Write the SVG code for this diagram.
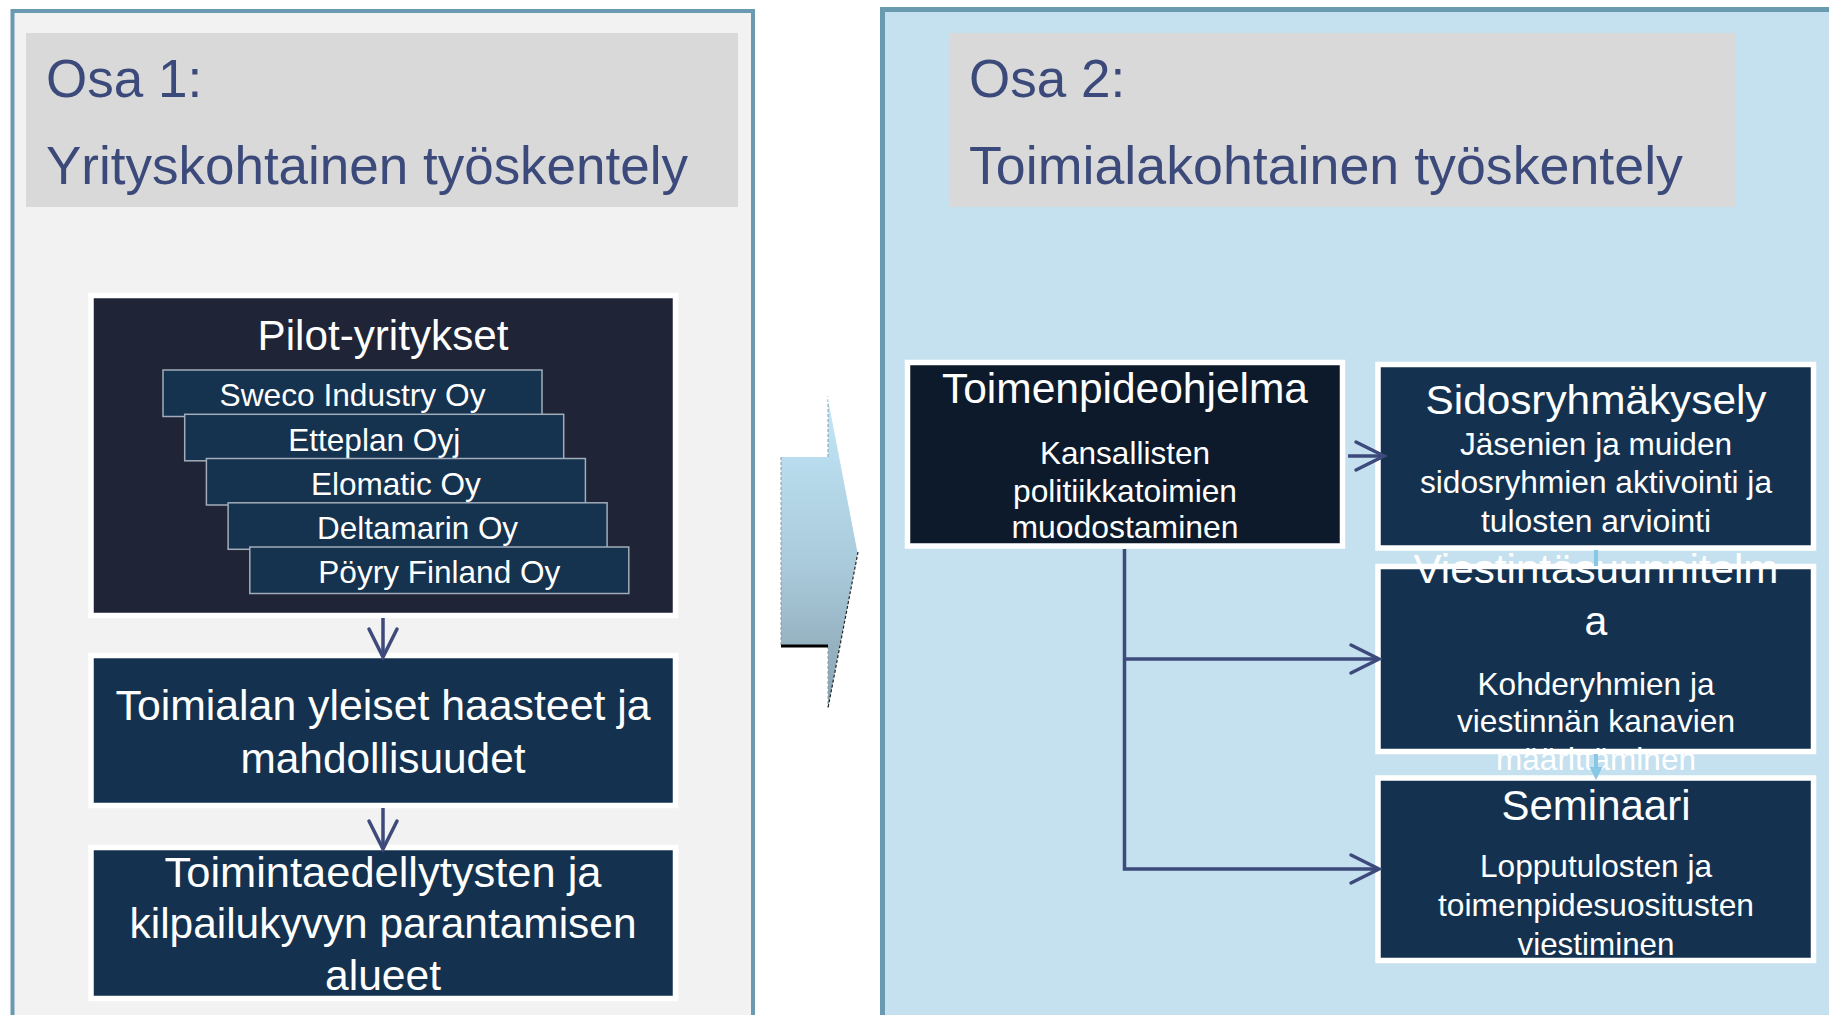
<svg xmlns="http://www.w3.org/2000/svg" width="1829" height="1015" viewBox="0 0 1829 1015">
<defs>
<style>
text{font-family:"Liberation Sans",Arial,Helvetica,sans-serif;}
.hdr{font-size:53px;fill:#3b4a7a;}
.w{fill:#ffffff;text-anchor:middle;}
.box{fill:#14324f;stroke:#ffffff;stroke-width:5.5;}
.co{fill:#15324f;stroke:#a3adb9;stroke-width:1.5;}
.conn{fill:none;stroke:#3d4a7b;stroke-width:3.5;}
.lb{fill:none;stroke:#86c8e6;stroke-width:4;}
</style>
<linearGradient id="chev" gradientUnits="userSpaceOnUse" x1="0" y1="396" x2="0" y2="708">
<stop offset="0" stop-color="#c6e6f5"/>
<stop offset="0.2" stop-color="#b9ddee"/>
<stop offset="0.55" stop-color="#a9cadb"/>
<stop offset="0.8" stop-color="#96b2c1"/>
<stop offset="1" stop-color="#8aa5b3"/>
</linearGradient>
<marker id="vh" markerUnits="userSpaceOnUse" markerWidth="40" markerHeight="40" refX="28" refY="14" orient="auto" overflow="visible">
<path d="M0,0 L28,14 L0,28" fill="none" stroke="#3d4a7b" stroke-width="3.5" stroke-linecap="round"/>
</marker>
</defs>

<rect width="1829" height="1015" fill="#ffffff"/>

<g id="panel-osa1">
<rect x="12.5" y="11" width="740.5" height="1100" fill="#f2f2f2" stroke="#6a9ab0" stroke-width="4"/>
<rect x="26" y="33" width="712" height="174" fill="#d9d9d9"/>
<text class="hdr" x="46" y="97">Osa 1:</text>
<text class="hdr" x="46" y="184" textLength="642" lengthAdjust="spacingAndGlyphs">Yrityskohtainen työskentely</text>
</g>

<g id="panel-osa2">
<rect x="882.5" y="9.5" width="1100" height="1100" fill="#c5e1ef" stroke="#6a9ab0" stroke-width="5"/>
<rect x="950" y="33" width="785" height="174" fill="#d9d9d9"/>
<text class="hdr" x="969" y="97">Osa 2:</text>
<text class="hdr" x="969" y="184" textLength="714" lengthAdjust="spacingAndGlyphs">Toimialakohtainen työskentely</text>
</g>

<g id="chevron">
<polygon points="781,457 828,457 828,396 858,552 828,708 828,646 781,646" fill="url(#chev)"/>
<path d="M781,457 V646 M828,457 V396 M828,646 V708" fill="none" stroke="#8a9aa4" stroke-width="1" stroke-dasharray="3,2"/>
<path d="M828,396 L858,552" fill="none" stroke="#ffffff" stroke-width="1.2"/>
<path d="M858,552 L828,708" fill="none" stroke="#222222" stroke-width="1.2" stroke-dasharray="3,2"/>
<line x1="781" y1="646" x2="828" y2="646" stroke="#000000" stroke-width="3"/>
</g>

<g id="pilot-yritykset">
<rect x="91" y="295.5" width="584.5" height="320" fill="#1f2537" stroke="#ffffff" stroke-width="5.5"/>
<text class="w" x="383" y="350" font-size="42" textLength="251" lengthAdjust="spacingAndGlyphs">Pilot-yritykset</text>
<g id="sweco"><rect class="co" x="163" y="370" width="379" height="46.5"/><text class="w" x="352.5" y="406" font-size="31.5" textLength="266" lengthAdjust="spacingAndGlyphs">Sweco Industry Oy</text></g>
<g id="etteplan"><rect class="co" x="184.7" y="414.3" width="379" height="46.5"/><text class="w" x="374.2" y="450.5" font-size="31.5" textLength="172" lengthAdjust="spacingAndGlyphs">Etteplan Oyj</text></g>
<g id="elomatic"><rect class="co" x="206.4" y="458.5" width="379" height="46.5"/><text class="w" x="395.9" y="494.5" font-size="31.5" textLength="170" lengthAdjust="spacingAndGlyphs">Elomatic Oy</text></g>
<g id="deltamarin"><rect class="co" x="228.1" y="502.8" width="379" height="46.5"/><text class="w" x="417.6" y="538.5" font-size="31.5" textLength="201" lengthAdjust="spacingAndGlyphs">Deltamarin Oy</text></g>
<g id="poyry"><rect class="co" x="249.8" y="547" width="379" height="46.5"/><text class="w" x="439.3" y="582.5" font-size="31.5" textLength="242" lengthAdjust="spacingAndGlyphs">Pöyry Finland Oy</text></g>
</g>

<g id="toimialan-haasteet">
<rect class="box" x="91" y="655.5" width="584.5" height="150"/>
<text class="w" x="383" y="720" font-size="42" textLength="535" lengthAdjust="spacingAndGlyphs">Toimialan yleiset haasteet ja</text>
<text class="w" x="383" y="773" font-size="42" textLength="285" lengthAdjust="spacingAndGlyphs">mahdollisuudet</text>
</g>

<g id="toimintaedellytykset">
<rect class="box" x="91" y="847.5" width="584.5" height="151"/>
<text class="w" x="383" y="887" font-size="42" textLength="437" lengthAdjust="spacingAndGlyphs">Toimintaedellytysten ja</text>
<text class="w" x="383" y="938" font-size="42" textLength="507" lengthAdjust="spacingAndGlyphs">kilpailukyvyn parantamisen</text>
<text class="w" x="383" y="990" font-size="42" textLength="116" lengthAdjust="spacingAndGlyphs">alueet</text>
</g>

<g id="toimenpideohjelma">
<rect class="box" x="907.5" y="362.5" width="435" height="183.5" style="fill:#0c1a2b"/>
<text class="w" x="1125" y="403" font-size="42" textLength="366" lengthAdjust="spacingAndGlyphs">Toimenpideohjelma</text>
<text class="w" x="1125" y="464" font-size="32" textLength="170" lengthAdjust="spacingAndGlyphs">Kansallisten</text>
<text class="w" x="1125" y="502" font-size="32" textLength="224" lengthAdjust="spacingAndGlyphs">politiikkatoimien</text>
<text class="w" x="1125" y="538" font-size="32" textLength="227" lengthAdjust="spacingAndGlyphs">muodostaminen</text>
</g>

<g id="sidosryhmakysely">
<rect class="box" x="1378" y="364.5" width="435.5" height="183.5"/>
<text class="w" x="1596" y="414" font-size="41" textLength="341" lengthAdjust="spacingAndGlyphs">Sidosryhmäkysely</text>
<text class="w" x="1596" y="455" font-size="31" textLength="272" lengthAdjust="spacingAndGlyphs">Jäsenien ja muiden</text>
<text class="w" x="1596" y="493" font-size="31" textLength="352" lengthAdjust="spacingAndGlyphs">sidosryhmien aktivointi ja</text>
<text class="w" x="1596" y="532" font-size="31" textLength="230" lengthAdjust="spacingAndGlyphs">tulosten arviointi</text>
</g>

<g id="viestintasuunnitelma">
<rect class="box" x="1378" y="566.5" width="435.5" height="185"/>
<text class="w" x="1596" y="583" font-size="41" textLength="365" lengthAdjust="spacingAndGlyphs">Viestintäsuunnitelm</text>
<text class="w" x="1596" y="635" font-size="41">a</text>
<text class="w" x="1596" y="695" font-size="32" textLength="237" lengthAdjust="spacingAndGlyphs">Kohderyhmien ja</text>
<text class="w" x="1596" y="732" font-size="32" textLength="278" lengthAdjust="spacingAndGlyphs">viestinnän kanavien</text>
<text class="w" x="1596" y="770" font-size="32" textLength="200" lengthAdjust="spacingAndGlyphs">määrittäminen</text>
</g>

<g id="seminaari">
<rect class="box" x="1378" y="778" width="435.5" height="182.5"/>
<text class="w" x="1596" y="820" font-size="42" textLength="189" lengthAdjust="spacingAndGlyphs">Seminaari</text>
<text class="w" x="1596" y="877" font-size="32" textLength="232" lengthAdjust="spacingAndGlyphs">Lopputulosten ja</text>
<text class="w" x="1596" y="916" font-size="32" textLength="316" lengthAdjust="spacingAndGlyphs">toimenpidesuositusten</text>
<text class="w" x="1596" y="955" font-size="32" textLength="157" lengthAdjust="spacingAndGlyphs">viestiminen</text>
</g>

<g id="connectors">
<line class="conn" x1="383" y1="618" x2="383" y2="657" marker-end="url(#vh)"/>
<line class="conn" x1="383" y1="808" x2="383" y2="849" marker-end="url(#vh)"/>
<line class="conn" x1="1348" y1="456" x2="1384" y2="456" marker-end="url(#vh)"/>
<path class="conn" d="M1124.5,549 V869 H1379" marker-end="url(#vh)"/>
<line class="conn" x1="1124.5" y1="659" x2="1379" y2="659" marker-end="url(#vh)"/>
<line class="lb" x1="1596" y1="550" x2="1596" y2="566"/>
<line class="lb" x1="1596" y1="754" x2="1596" y2="769"/>
<polygon points="1589.5,767 1602.5,767 1596,780" fill="#86c8e6"/>
</g>
</svg>
